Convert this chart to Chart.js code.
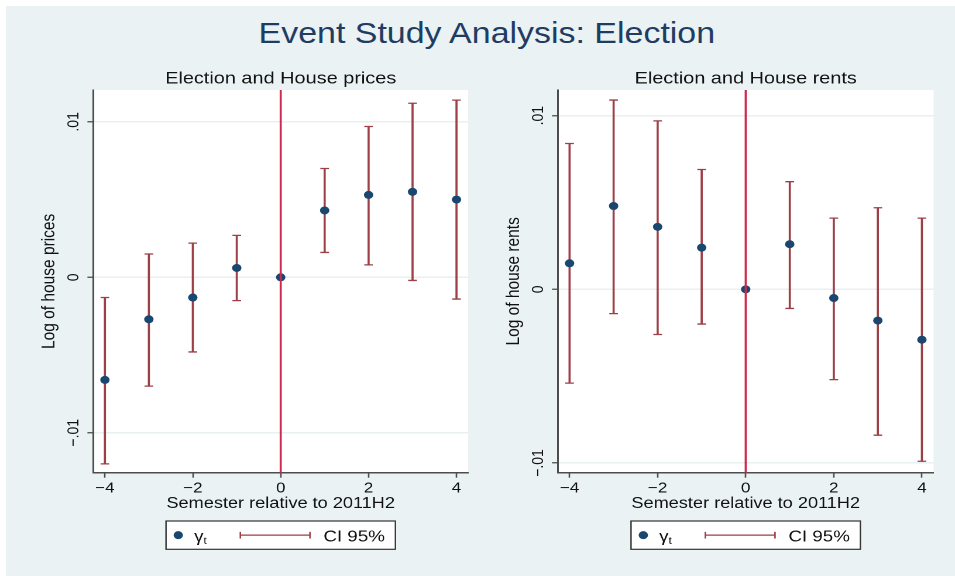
<!DOCTYPE html>
<html lang="en">
<head>
<meta charset="UTF-8">
<title>Event Study Analysis: Election</title>
<script src="https://cdn.jsdelivr.net/npm/chart.js"></script>
<style>
  body { margin: 0; background: #fff; font-family: "Liberation Sans", Arial, sans-serif; }
  /* the reference is drawn wider than it is tall, so the whole figure is stretched sideways */
  #wrap { position: absolute; left: 0; top: 0; width: 816px; height: 576px; transform: scaleX(1.1703); transform-origin: 0 0; }
  #bg { position: absolute; left: 5px; top: 6px; right: 0; bottom: 0; background: #eaf2f3; }
  #title { position: absolute; left: 0; top: 16px; width: 832px; line-height: 34px; text-align: center; font-size: 29px; color: #1f3c63; }
  .panel { position: absolute; top: 0; width: 408px; height: 576px; }
</style>
</head>
<body>
<div id="wrap">
  <div id="bg"></div>
  <div id="title">Event Study Analysis: Election</div>
  <div class="panel" style="left:0"><canvas id="prices" width="408" height="576"></canvas></div>
  <div class="panel" style="left:408px"><canvas id="rents" width="408" height="576"></canvas></div>
</div>

<script>
// semesters relative to 2011H2
var SEMESTERS = [-4, -3, -2, -1, 0, 1, 2, 3, 4];
var EVENT_X = 0;

// house prices: coefficient and 95% interval (reference period has no interval)
var PRICE_COEF = [-0.0066, -0.0027, -0.0013, 0.0006, 0, 0.0043, 0.0053, 0.0055, 0.0050];
var PRICE_LO   = [-0.0120, -0.0070, -0.0048, -0.0015, null, 0.0016, 0.0008, -0.0002, -0.0014];
var PRICE_HI   = [-0.0013, 0.0015, 0.0022, 0.0027, null, 0.0070, 0.0097, 0.0112, 0.0114];

// house rents
var RENT_COEF = [0.0015, 0.0048, 0.0036, 0.0024, 0, 0.0026, -0.0005, -0.0018, -0.0029];
var RENT_LO   = [-0.0054, -0.0014, -0.0026, -0.0020, null, -0.0011, -0.0052, -0.0084, -0.0099];
var RENT_HI   = [0.0084, 0.0109, 0.0097, 0.0069, null, 0.0062, 0.0041, 0.0047, 0.0041];

// axes
var X_RANGE = [-4.265, 4.265];
var X_TICKS = [-4, -2, 0, 2, 4];
var X_TICK_LABELS = ['\u22124', '\u22122', '0', '2', '4'];
var PRICE_Y_RANGE = [-0.01257, 0.01205];
var RENT_Y_RANGE = [-0.01056, 0.01148];
var Y_TICKS = [-0.01, 0, 0.01];
var Y_TICK_LABELS = ['\u2212.01', '0', '.01'];

var NAVY = '#1a476f';
var MAROON = '#9c3f47';
var RED = '#cc2a4e';
var AXIS = '#4d4d4d';
var GRID = '#e8f0f2';
var TEXT = '#111';
var FONT = '"Liberation Sans", Arial, sans-serif';

Chart.defaults.font.family = FONT;
Chart.defaults.color = TEXT;

// white plot region, panel title, rotated y tick labels and the boxed legend
var decor = {
    id: 'decor',
    beforeDraw: function (chart) {
        var a = chart.chartArea, ctx = chart.ctx;
        ctx.save();
        ctx.fillStyle = '#fff';
        ctx.fillRect(a.left, a.top, a.right - a.left, a.bottom - a.top);
        ctx.restore();
    },
    afterDraw: function (chart) {
        var a = chart.chartArea, ctx = chart.ctx;
        var p = chart.options.plugins.decor;
        var cx = (a.left + a.right) / 2;
        ctx.save();
        ctx.fillStyle = TEXT;

        // subtitle
        ctx.font = '17px ' + FONT;
        ctx.textAlign = 'center';
        ctx.textBaseline = 'alphabetic';
        ctx.fillText(p.subtitle, cx, 83.3);

        // y tick labels, turned like the axis title
        var ys = chart.scales.y;
        ctx.font = '14px ' + FONT;
        ys.ticks.forEach(function (t) {
            var label = Y_TICK_LABELS[Y_TICKS.indexOf(t.value)];
            ctx.save();
            ctx.translate(a.left - 12.5, ys.getPixelForValue(t.value));
            ctx.rotate(-Math.PI / 2);
            ctx.fillText(label, 0, 0);
            ctx.restore();
        });

        // legend
        var bw = 196, bh = 28.3;
        var bx = cx - bw / 2, by = 521;
        var my = by + bh / 2;
        ctx.fillStyle = '#fff';
        ctx.fillRect(bx, by, bw, bh);
        ctx.strokeStyle = '#333';
        ctx.lineWidth = 1.2;
        ctx.strokeRect(bx, by, bw, bh);

        ctx.fillStyle = NAVY;
        ctx.beginPath();
        ctx.arc(bx + 10.5, my, 4, 0, Math.PI * 2);
        ctx.fill();

        ctx.fillStyle = TEXT;
        ctx.textAlign = 'left';
        ctx.font = '16px ' + FONT;
        ctx.fillText('\u03b3', bx + 24, by + 20.5);
        var gw = ctx.measureText('\u03b3').width;
        ctx.font = '10px ' + FONT;
        ctx.fillText('t', bx + 24 + gw, by + 23);

        ctx.strokeStyle = MAROON;
        ctx.lineWidth = 1.3;
        ctx.beginPath();
        ctx.moveTo(bx + 63.5, my); ctx.lineTo(bx + 123, my);
        ctx.moveTo(bx + 63.5, my - 3.3); ctx.lineTo(bx + 63.5, my + 3.3);
        ctx.moveTo(bx + 123, my - 3.3); ctx.lineTo(bx + 123, my + 3.3);
        ctx.stroke();

        ctx.font = '16px ' + FONT;
        ctx.fillText('CI 95%', bx + 134.5, by + 20.7);
        ctx.restore();
    }
};

function makePanel(id, subtitle, yTitle, coef, lo, hi, yRange, axisW, padRight, yTitlePad) {
    var dots = [], whiskers = [], caps = [];
    SEMESTERS.forEach(function (x, i) {
        dots.push({ x: x, y: coef[i] });
        if (lo[i] !== null) {
            whiskers.push({ x: x, y: [lo[i], hi[i]] });
            caps.push({ x: x, y: lo[i] }, { x: x, y: hi[i] });
        }
    });

    return new Chart(document.getElementById(id), {
        type: 'scatter',
        plugins: [decor],
        data: {
            datasets: [
                {
                    type: 'line',
                    data: [{ x: EVENT_X, y: yRange[0] }, { x: EVENT_X, y: yRange[1] }],
                    borderColor: RED,
                    borderWidth: 1.8,
                    pointRadius: 0,
                    order: 0
                },
                {
                    data: dots,
                    backgroundColor: NAVY,
                    borderWidth: 0,
                    pointRadius: 4,
                    order: 1
                },
                {
                    data: caps,
                    pointStyle: 'line',
                    pointRadius: 3.7,
                    borderColor: MAROON,
                    borderWidth: 1.3,
                    order: 2
                },
                {
                    type: 'bar',
                    data: whiskers,
                    backgroundColor: MAROON,
                    barThickness: 1.15,
                    order: 3
                }
            ]
        },
        options: {
            responsive: false,
            animation: false,
            devicePixelRatio: 2,
            layout: { padding: { top: 90, left: 0, right: padRight, bottom: 0 } },
            plugins: {
                legend: { display: false },
                tooltip: { enabled: false },
                decor: { subtitle: subtitle }
            },
            scales: {
                x: {
                    type: 'linear',
                    offset: false,
                    min: X_RANGE[0],
                    max: X_RANGE[1],
                    afterBuildTicks: function (s) { s.ticks = X_TICKS.map(function (v) { return { value: v }; }); },
                    afterFit: function (s) { s.height = 576 - 472.7; },
                    grid: { offset: false, drawOnChartArea: false, tickLength: 5, tickColor: AXIS, tickWidth: 1.3 },
                    border: { color: AXIS, width: 1.5 },
                    ticks: {
                        padding: 2,
                        maxRotation: 0,
                        autoSkip: false,
                        font: { size: 14.5 },
                        callback: function (v) { return X_TICK_LABELS[X_TICKS.indexOf(v)]; }
                    },
                    title: {
                        display: true,
                        text: 'Semester relative to 2011H2',
                        font: { size: 15.5 },
                        padding: { top: 0, bottom: 63.2 }
                    }
                },
                y: {
                    type: 'linear',
                    offset: false,
                    min: yRange[0],
                    max: yRange[1],
                    afterBuildTicks: function (s) { s.ticks = Y_TICKS.map(function (v) { return { value: v }; }); },
                    afterFit: function (s) { s.width = axisW; },
                    grid: { offset: false, color: GRID, lineWidth: 1.5, tickLength: 5, tickColor: AXIS, tickWidth: 1.3 },
                    border: { color: AXIS, width: 1.5 },
                    ticks: { display: false },
                    title: {
                        display: true,
                        text: yTitle,
                        font: { size: 15.5 },
                        padding: { top: yTitlePad, bottom: 0 }
                    }
                }
            }
        }
    });
}

makePanel('prices', 'Election and House prices', 'Log of house prices',
    PRICE_COEF, PRICE_LO, PRICE_HI, PRICE_Y_RANGE, 79.7, 8, 32.8);
makePanel('rents', 'Election and House rents', 'Log of house rents',
    RENT_COEF, RENT_LO, RENT_HI, RENT_Y_RANGE, 68.7, 18.3, 21.9);
</script>
</body>
</html>
